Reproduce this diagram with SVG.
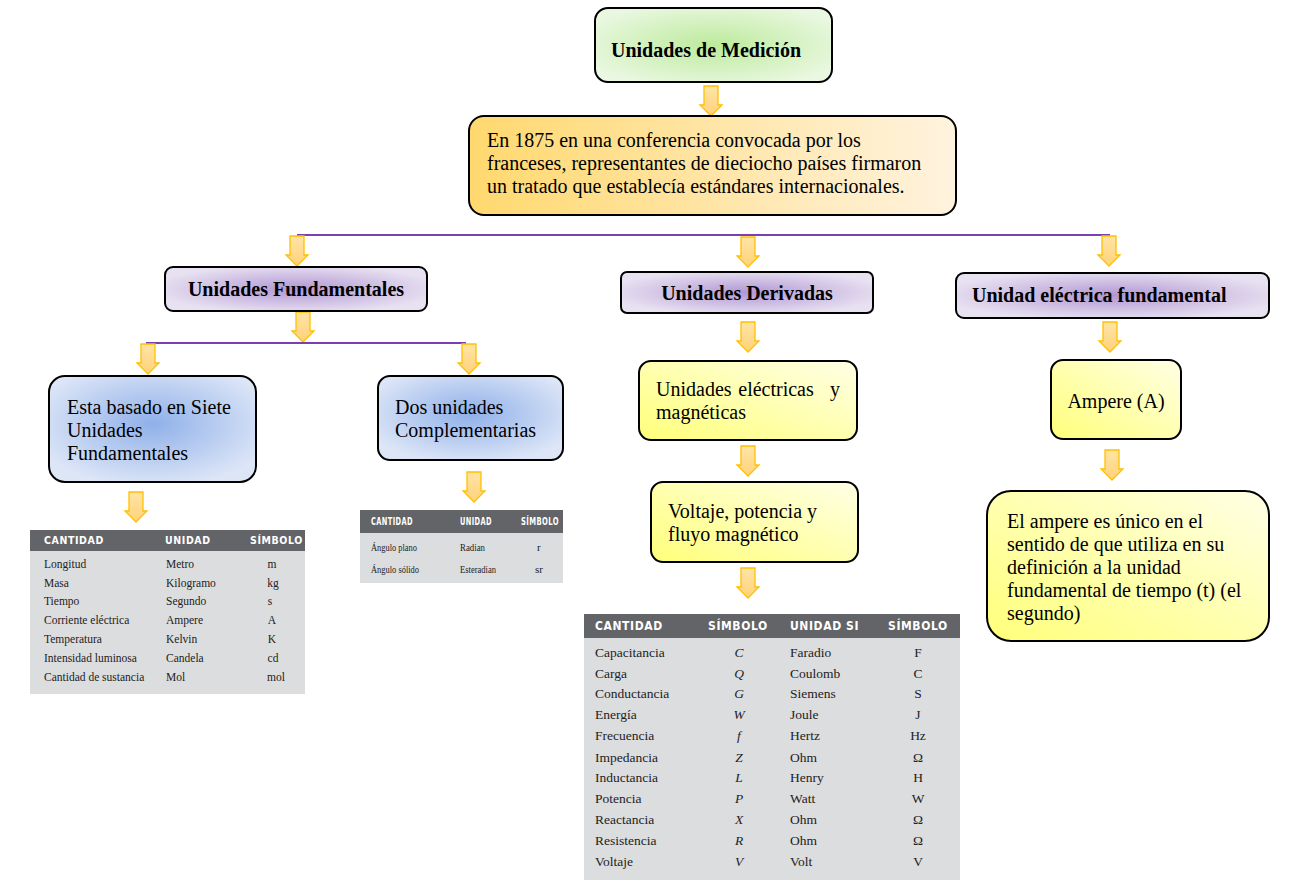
<svg xmlns="http://www.w3.org/2000/svg" width="1312" height="885" viewBox="0 0 1312 885">
<defs>
<radialGradient id="gGreen" cx="50%" cy="50%" r="60%"><stop offset="0" stop-color="#bdea9c"/><stop offset="1" stop-color="#eaf8e2"/></radialGradient>
<radialGradient id="gPurple" cx="50%" cy="50%" r="55%"><stop offset="0" stop-color="#b197d3"/><stop offset="1" stop-color="#e8e1f1"/></radialGradient>
<radialGradient id="gBlue" cx="50%" cy="45%" r="60%"><stop offset="0" stop-color="#8fb0e9"/><stop offset="1" stop-color="#dde6f7"/></radialGradient>
<linearGradient id="gOrange" x1="0" y1="0" x2="1" y2="0"><stop offset="0" stop-color="#ffd86e"/><stop offset="1" stop-color="#fff3df"/></linearGradient>
<linearGradient id="gYellow" x1="0" y1="1" x2="1" y2="0"><stop offset="0" stop-color="#ffff7a"/><stop offset="1" stop-color="#ffffe6"/></linearGradient>
<linearGradient id="gArrow" x1="0" y1="0" x2="0" y2="1"><stop offset="0" stop-color="#ffe4a6"/><stop offset="1" stop-color="#ffd278"/></linearGradient>
<path id="arr" d="M-7,0 H7 V19 H11 L0,30 L-11,19 H-7 Z" fill="url(#gArrow)" stroke="#ffc000" stroke-width="1.3" stroke-linejoin="miter"/>
</defs>
<style>
.box{stroke:#000;stroke-width:2}
.t{font-family:"Liberation Serif","Times New Roman",serif;font-size:20px;fill:#000}
.tb{font-family:"Liberation Serif","Times New Roman",serif;font-size:20px;font-weight:bold;fill:#000}
.hd{fill:#636468}
.bd{fill:#dcdddf}
.th{font-family:"DejaVu Sans Condensed","DejaVu Sans","Liberation Sans",sans-serif;font-stretch:condensed;font-weight:bold;fill:#fff;letter-spacing:0.6px}
.td{font-family:"Liberation Serif","Times New Roman",serif;fill:#222}
.link{stroke:#7a3fb0;stroke-width:2;fill:none}
</style>
<rect width="1312" height="885" fill="#fff"/>

<g id="connectors">
<use href="#arr" x="711" y="86"/>
<line class="link" x1="297" y1="235" x2="1110" y2="235"/>
<use href="#arr" x="297" y="236"/>
<use href="#arr" x="748" y="237"/>
<use href="#arr" x="1109" y="236"/>
<use href="#arr" x="303" y="312"/>
<line class="link" x1="146" y1="343" x2="466" y2="343"/>
<use href="#arr" x="148" y="344"/>
<use href="#arr" x="469" y="344"/>
<use href="#arr" x="136" y="492"/>
<use href="#arr" x="474" y="472"/>
<use href="#arr" x="748" y="322"/>
<use href="#arr" x="748" y="446"/>
<use href="#arr" x="748" y="568"/>
<use href="#arr" x="1110" y="322"/>
<use href="#arr" x="1112" y="450"/>
</g>

<g id="n-medicion">
<rect class="box" x="595" y="8" width="237" height="74" rx="13" fill="url(#gGreen)"/>
<text class="tb" x="611" y="57">Unidades de Medición</text>
</g>

<g id="n-1875">
<rect class="box" x="469" y="116" width="487" height="99" rx="15" fill="url(#gOrange)"/>
<text class="t" x="487" y="147">En 1875 en una conferencia convocada por los</text>
<text class="t" x="487" y="170">franceses, representantes de dieciocho países firmaron</text>
<text class="t" x="487" y="193">un tratado que establecía estándares internacionales.</text>
</g>

<g id="n-fund">
<rect class="box" x="165" y="267" width="262" height="44" rx="8" fill="url(#gPurple)"/>
<text class="tb" x="296" y="296" text-anchor="middle">Unidades Fundamentales</text>
</g>

<g id="n-deriv">
<rect class="box" x="621" y="272" width="252" height="41" rx="6" fill="url(#gPurple)"/>
<text class="tb" x="747" y="300" text-anchor="middle">Unidades Derivadas</text>
</g>

<g id="n-elec">
<rect class="box" x="956" y="273" width="313" height="45" rx="8" fill="url(#gPurple)"/>
<text class="tb" x="972" y="302">Unidad eléctrica fundamental</text>
</g>

<g id="n-siete">
<rect class="box" x="49" y="376" width="207" height="106" rx="16" fill="url(#gBlue)"/>
<text class="t" x="67" y="414">Esta basado en Siete</text>
<text class="t" x="67" y="437">Unidades</text>
<text class="t" x="67" y="460">Fundamentales</text>
</g>

<g id="n-dos">
<rect class="box" x="378" y="376" width="185" height="84" rx="12" fill="url(#gBlue)"/>
<text class="t" x="395" y="414">Dos unidades</text>
<text class="t" x="395" y="437">Complementarias</text>
</g>

<g id="n-electmag">
<rect class="box" x="639" y="361" width="218" height="79" rx="12" fill="url(#gYellow)"/>
<text class="t" x="656" y="396">Unidades</text>
<text class="t" x="776" y="396" text-anchor="middle">eléctricas</text>
<text class="t" x="840" y="396" text-anchor="end">y</text>
<text class="t" x="656" y="419">magnéticas</text>
</g>

<g id="n-voltaje">
<rect class="box" x="651" y="482" width="207" height="80" rx="12" fill="url(#gYellow)"/>
<text class="t" x="668" y="518">Voltaje, potencia y</text>
<text class="t" x="668" y="541">fluyo magnético</text>
</g>

<g id="n-ampere">
<rect class="box" x="1051" y="360" width="130" height="79" rx="12" fill="url(#gYellow)"/>
<text class="t" x="1116" y="408" text-anchor="middle">Ampere (A)</text>
</g>

<g id="n-ampdef">
<rect class="box" x="987" y="491" width="282" height="150" rx="24" fill="url(#gYellow)"/>
<text class="t" x="1007" y="528">El ampere es único en el</text>
<text class="t" x="1007" y="551">sentido de que utiliza en su</text>
<text class="t" x="1007" y="574">definición a la unidad</text>
<text class="t" x="1007" y="597">fundamental de tiempo (t) (el</text>
<text class="t" x="1007" y="620">segundo)</text>
</g>

<g id="tabla-fundamentales">
<rect class="bd" x="30" y="530" width="275" height="164"/>
<rect class="hd" x="30" y="530" width="275" height="21"/>
<g class="th" font-size="10.5">
<text x="44" y="544">CANTIDAD</text>
<text x="165" y="544">UNIDAD</text>
<text x="250" y="544">SÍMBOLO</text>
</g>
<g class="td" font-size="11.5">
<text x="44" y="568">Longitud</text><text x="166" y="568">Metro</text><text x="272" y="568" text-anchor="middle">m</text>
<text x="44" y="587">Masa</text><text x="166" y="587">Kilogramo</text><text x="273" y="587" text-anchor="middle">kg</text>
<text x="44" y="605">Tiempo</text><text x="166" y="605">Segundo</text><text x="270" y="605" text-anchor="middle">s</text>
<text x="44" y="624">Corriente eléctrica</text><text x="166" y="624">Ampere</text><text x="272" y="624" text-anchor="middle">A</text>
<text x="44" y="643">Temperatura</text><text x="166" y="643">Kelvin</text><text x="272" y="643" text-anchor="middle">K</text>
<text x="44" y="662">Intensidad luminosa</text><text x="166" y="662">Candela</text><text x="273" y="662" text-anchor="middle">cd</text>
<text x="44" y="681">Cantidad de sustancia</text><text x="166" y="681">Mol</text><text x="276" y="681" text-anchor="middle">mol</text>
</g>
</g>

<g id="tabla-complementarias">
<rect class="bd" x="360" y="510" width="203" height="73"/>
<rect class="hd" x="360" y="510" width="203" height="23"/>
<g class="th" font-size="11" font-weight="normal" letter-spacing="0">
<text x="371" y="525" textLength="42" lengthAdjust="spacingAndGlyphs">CANTIDAD</text>
<text x="460" y="525" textLength="32" lengthAdjust="spacingAndGlyphs">UNIDAD</text>
<text x="521" y="525" textLength="38" lengthAdjust="spacingAndGlyphs">SÍMBOLO</text>
</g>
<g class="td" font-size="11">
<text x="371" y="551" textLength="46" lengthAdjust="spacingAndGlyphs">Ángulo plano</text><text x="460" y="551" textLength="25" lengthAdjust="spacingAndGlyphs">Radian</text><text x="537" y="551">r</text>
<text x="371" y="573" textLength="48" lengthAdjust="spacingAndGlyphs">Ángulo sólido</text><text x="460" y="573" textLength="36" lengthAdjust="spacingAndGlyphs">Esteradian</text><text x="535" y="573">sr</text>
</g>
</g>

<g id="tabla-derivadas">
<rect class="bd" x="584" y="614" width="376" height="266"/>
<rect class="hd" x="584" y="614" width="376" height="24"/>
<g class="th" font-size="12">
<text x="595" y="630">CANTIDAD</text>
<text x="708" y="630">SÍMBOLO</text>
<text x="790" y="630">UNIDAD SI</text>
<text x="888" y="630">SÍMBOLO</text>
</g>
<g class="td" font-size="13.5">
<text x="595" y="657">Capacitancia</text><text x="739" y="657" text-anchor="middle" font-style="italic">C</text><text x="790" y="657">Faradio</text><text x="918" y="657" text-anchor="middle">F</text>
<text x="595" y="678">Carga</text><text x="739" y="678" text-anchor="middle" font-style="italic">Q</text><text x="790" y="678">Coulomb</text><text x="918" y="678" text-anchor="middle">C</text>
<text x="595" y="698">Conductancia</text><text x="739" y="698" text-anchor="middle" font-style="italic">G</text><text x="790" y="698">Siemens</text><text x="918" y="698" text-anchor="middle">S</text>
<text x="595" y="719">Energía</text><text x="739" y="719" text-anchor="middle" font-style="italic">W</text><text x="790" y="719">Joule</text><text x="918" y="719" text-anchor="middle">J</text>
<text x="595" y="740">Frecuencia</text><text x="739" y="740" text-anchor="middle" font-style="italic">f</text><text x="790" y="740">Hertz</text><text x="918" y="740" text-anchor="middle">Hz</text>
<text x="595" y="762">Impedancia</text><text x="739" y="762" text-anchor="middle" font-style="italic">Z</text><text x="790" y="762">Ohm</text><text x="918" y="762" text-anchor="middle">Ω</text>
<text x="595" y="782">Inductancia</text><text x="739" y="782" text-anchor="middle" font-style="italic">L</text><text x="790" y="782">Henry</text><text x="918" y="782" text-anchor="middle">H</text>
<text x="595" y="803">Potencia</text><text x="739" y="803" text-anchor="middle" font-style="italic">P</text><text x="790" y="803">Watt</text><text x="918" y="803" text-anchor="middle">W</text>
<text x="595" y="824">Reactancia</text><text x="739" y="824" text-anchor="middle" font-style="italic">X</text><text x="790" y="824">Ohm</text><text x="918" y="824" text-anchor="middle">Ω</text>
<text x="595" y="845">Resistencia</text><text x="739" y="845" text-anchor="middle" font-style="italic">R</text><text x="790" y="845">Ohm</text><text x="918" y="845" text-anchor="middle">Ω</text>
<text x="595" y="866">Voltaje</text><text x="739" y="866" text-anchor="middle" font-style="italic">V</text><text x="790" y="866">Volt</text><text x="918" y="866" text-anchor="middle">V</text>
</g>
</g>
</svg>
